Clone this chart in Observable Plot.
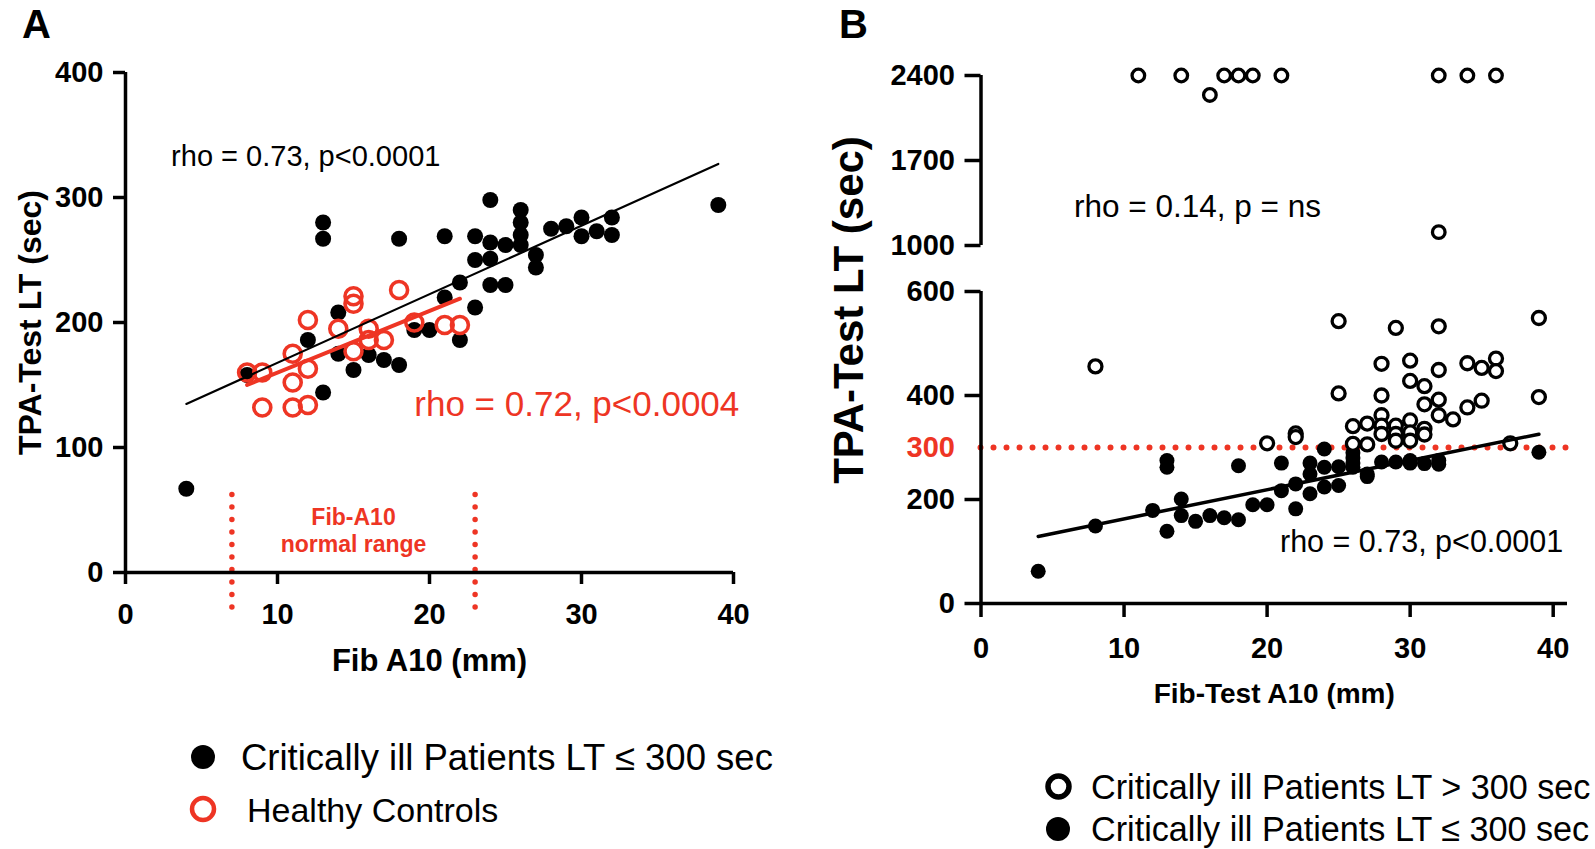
<!DOCTYPE html>
<html><head><meta charset="utf-8">
<script src="https://cdn.jsdelivr.net/npm/d3@7"></script>
<script src="https://cdn.jsdelivr.net/npm/@observablehq/plot@0.6"></script>
<style>
html,body{margin:0;padding:0;background:#fff;}
#root{position:relative;width:1595px;height:849px;overflow:hidden;font-family:"Liberation Sans",Arial,Helvetica,sans-serif;color:#000;}
</style></head>
<body><div id="root"></div>
<script>
// ---------- data ----------
// Panel A: critically ill patients with LT <= 300 sec (filled black)
const aPatientFib = [4, 8, 12, 13, 13, 13, 14, 14, 15, 16, 17, 18, 18, 19, 20, 21, 21, 22, 22, 23, 23, 23, 24, 24, 24, 24, 25, 25, 26, 26, 26, 26, 27, 27, 28, 29, 30, 30, 31, 32, 32, 39];
const aPatientLT  = [67, 158, 186, 280, 267, 144, 208, 175, 162, 174, 170, 267, 166, 194, 194, 269, 220, 232, 186, 269, 250, 212, 298, 264, 251, 230, 262, 230, 290, 280, 270, 262, 254, 244, 275, 277, 284, 269, 273, 284, 270, 294];
// Panel A: healthy controls (red open)
const aControlFib = [8, 9, 9, 11, 12, 11, 11, 12, 12, 14, 15, 15, 15, 16, 16, 17, 18, 19, 21, 22];
const aControlLT  = [160, 160, 132, 132, 134, 175, 152, 163, 202, 195, 221, 215, 177, 195, 186, 186, 226, 200, 198, 198];
// Panel B: LT <= 300 sec (filled)
const bLowFib = [4, 8, 12, 13, 13, 13, 14, 14, 15, 16, 17, 18, 18, 19, 20, 21, 21, 22, 22, 23, 23, 23, 24, 24, 24, 25, 25, 26, 26, 26, 26, 27, 27, 28, 29, 30, 30, 31, 32, 32, 39];
const bLowLT  = [62, 149, 179, 275, 262, 139, 201, 169, 158, 169, 165, 265, 161, 190, 190, 270, 217, 230, 182, 270, 249, 211, 297, 262, 224, 263, 227, 290, 280, 270, 262, 249, 244, 272, 272, 275, 270, 269, 275, 268, 291];
// Panel B: LT > 300 sec (open)
const bHighFib = [11, 14, 16, 17, 18, 19, 21, 32, 34, 36, 32, 8, 20, 22, 22, 25, 25, 26, 26, 27, 27, 28, 28, 28, 28, 28, 29, 29, 29, 29, 30, 30, 30, 30, 30, 31, 31, 31, 31, 32, 32, 32, 32, 33, 34, 34, 35, 35, 36, 36, 37, 39, 39];
const bHighLT  = [2400, 2400, 2240, 2400, 2400, 2400, 2400, 2400, 2400, 2400, 1110, 456, 308, 327, 320, 543, 404, 341, 307, 346, 306, 461, 400, 362, 342, 326, 530, 342, 326, 313, 467, 428, 352, 329, 313, 418, 383, 336, 325, 533, 449, 392, 362, 354, 462, 377, 453, 390, 471, 447, 308, 549, 397];

// ticks / domains
const aXTicks = [0, 10, 20, 30, 40];
const aYTicks = [0, 100, 200, 300, 400];
const bXTicks = [0, 10, 20, 30, 40];
const bUpperTicks = [1000, 1700, 2400];
const bLowerTicks = [0, 200, 400, 600];
const breakValue = 1000;
const threshold = 300;
const normalRange = [7, 23];
const normalRangeSpan = [-28, 63];   // vertical extent of the dotted range markers (sec)

// texts
const rhoA = "rho = 0.73, p<0.0001";
const rhoControls = "rho = 0.72, p<0.0004";
const rhoBUpper = "rho = 0.14, p = ns";
const rhoBLower = "rho = 0.73, p<0.0001";
const normalRangeLabel = "Fib-A10\nnormal range";
const xTitleA = "Fib A10 (mm)";
const xTitleB = "Fib-Test A10 (mm)";
const yTitle = "TPA-Test LT (sec)";
const legendA = ["Critically ill Patients LT \u2264 300 sec", "Healthy Controls"];
const legendB = ["Critically ill Patients LT > 300 sec", "Critically ill Patients LT \u2264 300 sec"];
// annotation anchor points (data space)
const rhoAPos = [3, 333], rhoControlsPos = [19, 134], rhoBUpperPos = [6.5, 1321], rhoBLowerPos = [20.9, 117], rangeLabelY = 34;

// ---------- build ----------
const RED = "#ee3524";
const FONT = "'Liberation Sans', Arial, Helvetica, sans-serif";
const root = document.getElementById("root");
const zip = (xs, ys) => xs.map((x, i) => ({fib: x, lt: ys[i]}));
const patientsA = zip(aPatientFib, aPatientLT);
const controlsA = zip(aControlFib, aControlLT);
const lowB = zip(bLowFib, bLowLT);
const highB = zip(bHighFib, bHighLT);
const fmt = d => String(d);

const baseStyle = {fontFamily: FONT, fontSize: "29px", fontWeight: "bold", color: "#000", background: "transparent", overflow: "visible"};
const AX = 3.5;

function place(node, left, top) {
  const d = document.createElement("div");
  d.style.position = "absolute"; d.style.left = left + "px"; d.style.top = top + "px";
  d.appendChild(node); root.appendChild(d);
}
function addText(txt, x, y, css) {
  const d = document.createElement("div");
  d.textContent = txt;
  Object.assign(d.style, {position: "absolute", left: x + "px", top: y + "px", whiteSpace: "nowrap", lineHeight: "1", transform: "translateY(-50%)"}, css || {});
  root.appendChild(d);
  return d;
}
function addMarker(cx, cy, r, fill, stroke, sw) {
  const ns = "http://www.w3.org/2000/svg";
  const s = document.createElementNS(ns, "svg");
  const size = 2 * r + 8;
  s.setAttribute("width", size); s.setAttribute("height", size);
  s.style.position = "absolute"; s.style.left = (cx - size / 2) + "px"; s.style.top = (cy - size / 2) + "px";
  const c = document.createElementNS(ns, "circle");
  c.setAttribute("cx", size / 2); c.setAttribute("cy", size / 2); c.setAttribute("r", r);
  c.setAttribute("fill", fill); c.setAttribute("stroke", stroke); c.setAttribute("stroke-width", sw);
  s.appendChild(c); root.appendChild(s);
}

// Panel A
const plotA = Plot.plot({
  width: 760, height: 640,
  marginLeft: 125, marginRight: 27, marginTop: 32, marginBottom: 108,
  x: {domain: [aXTicks[0], aXTicks[aXTicks.length - 1]]},
  y: {domain: [aYTicks[0], aYTicks[aYTicks.length - 1]]},
  style: baseStyle,
  marks: [
    Plot.ruleX(normalRange, {y1: normalRangeSpan[0], y2: normalRangeSpan[1], stroke: RED, strokeWidth: 5.5, strokeDasharray: "0 12.5", strokeLinecap: "round"}),
    Plot.text([normalRangeLabel], {x: d3.mean(normalRange), y: rangeLabelY, fill: RED, fontSize: 23, fontWeight: "bold", lineHeight: 1.15}),
    Plot.axisX({ticks: aXTicks, tickFormat: fmt, tickSize: 12, tickPadding: 19, strokeWidth: AX, label: null, fontSize: 29, fontWeight: "bold"}),
    Plot.axisY({ticks: aYTicks, tickFormat: fmt, tickSize: 12, tickPadding: 10, strokeWidth: AX, label: null, fontSize: 29, fontWeight: "bold"}),
    Plot.ruleY([aYTicks[0]], {strokeWidth: AX}),
    Plot.ruleX([aXTicks[0]], {strokeWidth: AX}),
    Plot.dot(patientsA, {x: "fib", y: "lt", r: 8, fill: "black"}),
    Plot.dot(controlsA, {x: "fib", y: "lt", r: 8.5, stroke: RED, strokeWidth: 3.6, fill: "none"}),
    Plot.linearRegressionY(patientsA, {x: "fib", y: "lt", stroke: "black", strokeWidth: 2.2, ci: 0}),
    Plot.linearRegressionY(controlsA, {x: "fib", y: "lt", stroke: RED, strokeWidth: 4, ci: 0}),
    Plot.text([rhoA], {x: rhoAPos[0], y: rhoAPos[1], textAnchor: "start", fontSize: 29, fontWeight: "normal"}),
    Plot.text([rhoControls], {x: rhoControlsPos[0], y: rhoControlsPos[1], textAnchor: "start", fontSize: 35, fontWeight: "normal", fill: RED}),
    Plot.text([xTitleA], {frameAnchor: "bottom", textAnchor: "middle", dy: 98, fontSize: 31, fontWeight: "bold"}),
    Plot.text([yTitle], {frameAnchor: "left", textAnchor: "middle", rotate: -90, dx: -95, fontSize: 32, fontWeight: "bold"})
  ]
});
place(plotA, 0, 40);

// Panel B upper (broken axis section)
const bXDomain = [0, 41];
const plotBUp = Plot.plot({
  width: 735, height: 220,
  marginLeft: 120.5, marginRight: 28, marginTop: 35, marginBottom: 15,
  x: {domain: bXDomain, axis: null},
  y: {domain: [bUpperTicks[0], bUpperTicks[bUpperTicks.length - 1]]},
  style: baseStyle,
  marks: [
    Plot.axisY({ticks: bUpperTicks, tickFormat: fmt, tickSize: 16, tickPadding: 10, strokeWidth: AX, label: null, fontSize: 29, fontWeight: "bold"}),
    Plot.ruleX([bXTicks[0]], {strokeWidth: AX}),
    Plot.dot(highB.filter(d => d.lt >= breakValue), {x: "fib", y: "lt", r: 6.3, stroke: "black", strokeWidth: 3.3, fill: "white"}),
    Plot.text([rhoBUpper], {x: rhoBUpperPos[0], y: rhoBUpperPos[1], textAnchor: "start", fontSize: 31.5, fontWeight: "normal"})
  ]
});
place(plotBUp, 860, 40);

// Panel B lower section
const plotBLow = Plot.plot({
  width: 735, height: 440,
  marginLeft: 120.5, marginRight: 28, marginTop: 21, marginBottom: 107,
  x: {domain: bXDomain},
  y: {domain: [bLowerTicks[0], bLowerTicks[bLowerTicks.length - 1]]},
  style: baseStyle,
  marks: [
    Plot.ruleY([threshold], {stroke: RED, strokeWidth: 6, strokeDasharray: "0 13", strokeLinecap: "round"}),
    Plot.axisX({ticks: bXTicks, tickFormat: fmt, tickSize: 14, tickPadding: 20, strokeWidth: AX, label: null, fontSize: 29, fontWeight: "bold"}),
    Plot.axisY({ticks: bLowerTicks, tickFormat: fmt, tickSize: 16, tickPadding: 10, strokeWidth: AX, label: null, fontSize: 29, fontWeight: "bold"}),
    Plot.ruleX([bXTicks[0]], {strokeWidth: AX}),
    Plot.ruleY([bLowerTicks[0]], {strokeWidth: AX}),
    Plot.text([threshold], {y: d => d, frameAnchor: "left", dx: -26, textAnchor: "end", fill: RED, fontSize: 29, fontWeight: "bold"}),
    Plot.dot(lowB, {x: "fib", y: "lt", r: 7.5, fill: "black"}),
    Plot.dot(highB.filter(d => d.lt < breakValue), {x: "fib", y: "lt", r: 6.5, stroke: "black", strokeWidth: 3.3, fill: "white"}),
    Plot.linearRegressionY(lowB, {x: "fib", y: "lt", stroke: "black", strokeWidth: 3.5, ci: 0}),
    Plot.text([rhoBLower], {x: rhoBLowerPos[0], y: rhoBLowerPos[1], textAnchor: "start", fontSize: 30.5, fontWeight: "normal"}),
    Plot.text([xTitleB], {frameAnchor: "bottom", textAnchor: "middle", dy: 99, fontSize: 28, fontWeight: "bold"})
  ]
});
place(plotBLow, 860, 270);

// Panel B y title
addText(yTitle, 849, 310, {fontSize: "42px", fontWeight: "bold", transform: "translate(-50%,-50%) rotate(-90deg)"});

// Panel letters
addText("A", 22, 24, {fontSize: "40px", fontWeight: "bold"});
addText("B", 839, 24, {fontSize: "40px", fontWeight: "bold"});

// Legend A
addMarker(203, 757, 12, "black", "none", 0);
addText(legendA[0], 241, 758, {fontSize: "36.5px"});
addMarker(203, 809, 11, "none", RED, 4.5);
addText(legendA[1], 247, 810, {fontSize: "34px"});

// Legend B
addMarker(1058, 786, 10.5, "white", "black", 5.5);
addText(legendB[0], 1091, 787, {fontSize: "34.2px"});
addMarker(1058, 829, 12, "black", "none", 0);
addText(legendB[1], 1091, 829, {fontSize: "34.2px"});
</script>
</body></html>
